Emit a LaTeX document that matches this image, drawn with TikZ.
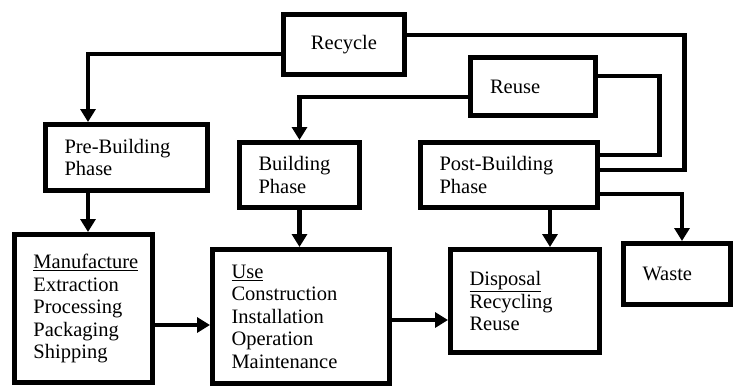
\documentclass[tikz,border=0pt]{standalone}
\usepackage{fontspec}
\setmainfont{Liberation Serif}
\usepackage{tikz}
\usetikzlibrary{calc, positioning, arrows.meta}

\begin{document}
\begin{tikzpicture}[
			x=1pt, y=-1pt,
			>={Triangle[width=15pt,length=13pt]},
			mybox/.style={draw, line width=5pt, rectangle, inner xsep=19pt, inner ysep=2pt, align=left, font=\fontsize{20.5}{22.5}\selectfont},
			link/.style={line width=4.5pt}
		]
		\useasboundingbox (0,0) rectangle (740,389);

		% top row
		\node[mybox, align=center, minimum width=121pt, minimum height=60pt] (recycle) at (344,44.5) {Recycle};
		\node[mybox, minimum width=125pt, minimum height=58pt, text width=86pt] (reuse) at (533,86.5) {Reuse};

		% phases
		\node[mybox, minimum width=162pt, minimum height=66pt, text width=124pt] (pre) at (126.5,157.5) {Pre-Building\\Phase};
		\node[mybox, minimum width=120pt, minimum height=65pt, text width=82pt] (building) at (299.5,175) {Building\\Phase};
		\node[mybox, minimum width=177pt, minimum height=65pt, text width=139pt] (post) at (509,175) {Post-Building\\Phase};

		% bottom row
		\node[mybox, minimum width=138pt, minimum height=148pt, text width=100pt] (manufacture) at (83.5,308.5) {\underline{Manufacture}\\Extraction\\Processing\\Packaging\\Shipping};
		\node[mybox, minimum width=177pt, minimum height=134pt, text width=139pt] (use) at (301,316.5) {\underline{Use}\\Construction\\Installation\\Operation\\Maintenance};
		\node[mybox, minimum width=149pt, minimum height=103pt, text width=111pt] (disposal) at (525,301) {\underline{Disposal}\\Recycling\\Reuse};
		\node[mybox, minimum width=107pt, minimum height=61pt, text width=69pt] (waste) at (677,274) {Waste};

		\draw[link, ->] ([yshift=-9.5pt]recycle.west) -| ([xshift=-38.5pt]pre.north);
		\draw[link, ->] ([yshift=-10.5pt]reuse.west) -| (building.north);
		\draw[link] ([yshift=9.5pt]recycle.east) -| ([xshift=84.5pt,yshift=5pt]post.east) -- ([yshift=5pt]post.east);
		\draw[link] ([yshift=10.5pt]reuse.east) -| ([xshift=59.5pt,yshift=20pt]post.east) -- ([yshift=20pt]post.east);
		\draw[link, ->] ([yshift=-19pt]post.east) -| ([xshift=5pt]waste.north);
		\draw[link, ->] ([xshift=41pt]post.south) -- ([xshift=25pt]disposal.north);
		\draw[link, ->] ([xshift=-38.5pt]pre.south) -- ([xshift=4.5pt]manufacture.north);
		\draw[link, ->] (building.south) -- (building.south |- use.north);
		\draw[link, ->] ([yshift=-16.5pt]manufacture.east) -- ([yshift=-8.5pt]use.west);
		\draw[link, ->] ([yshift=-3.5pt]use.east) -- ([yshift=-19pt]disposal.west);
	\end{tikzpicture}
\end{document}
